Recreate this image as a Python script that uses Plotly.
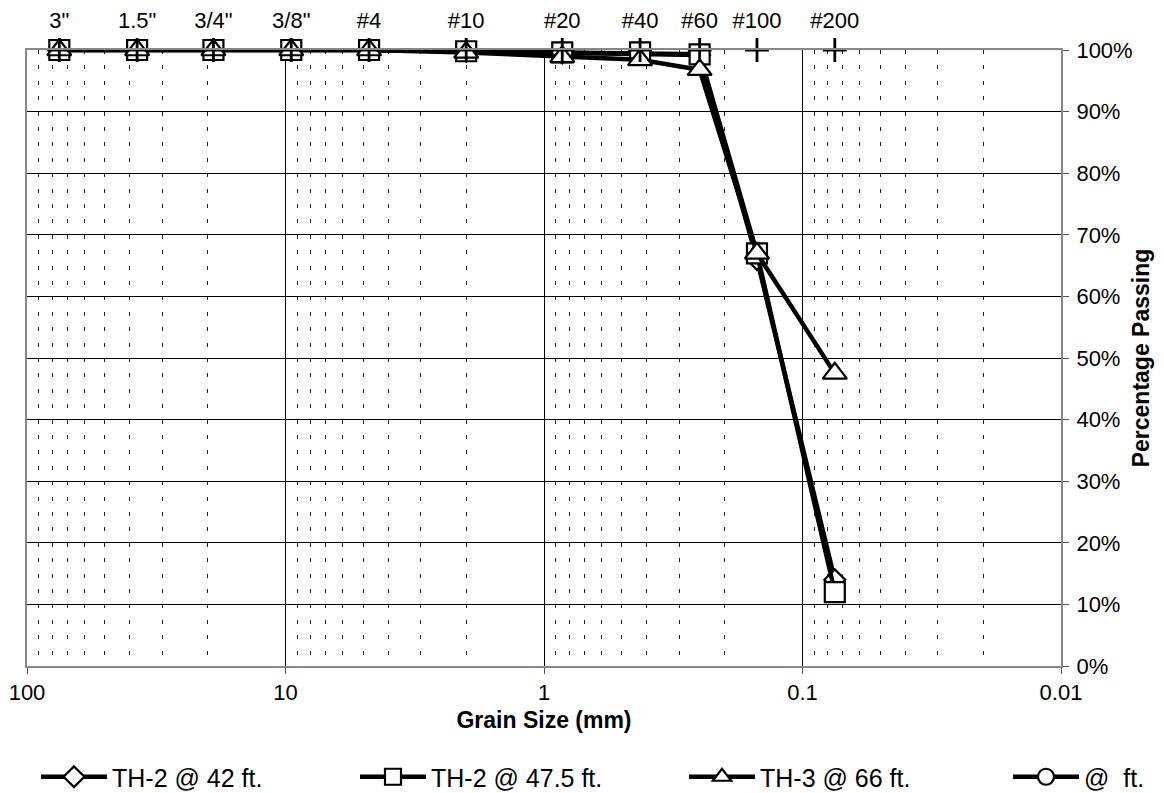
import plotly.graph_objects as go

# Sieve data
sieve_names = ['3"', '1.5"', '3/4"', '3/8"', '#4', '#10', '#20', '#40', '#60', '#100', '#200']
sieve_mm = [75, 37.5, 19, 9.5, 4.75, 2.0, 0.85, 0.425, 0.25, 0.15, 0.075]

th2_42 = [100, 100, 100, 100, 100, 99.8, 99.5, 99.4, 99.2, 66.0, 14.0]
th2_475 = [100, 100, 100, 100, 100, 99.8, 99.6, 99.6, 99.3, 67.0, 12.0]
th3_66 = [100, 100, 100, 100, 100, 99.6, 98.9, 98.4, 96.8, 67.0, 47.5]
sieve_top = [100] * len(sieve_mm)

x_ticks = [100, 10, 1, 0.1, 0.01]
x_ticktext = ["100", "10", "1", "0.1", "0.01"]
minor_vals = [m * 10 ** k for k in range(-2, 2) for m in range(2, 10)]

FONT = "Liberation Sans, Arial, Helvetica, sans-serif"
# page body has an 8px margin, so the figure is sized/positioned in page px - 8
OFF = 8
W, H = 1164 - OFF, 793 - OFF
ML, MT = 27 - OFF, 50 - OFF
PR, PB = 1061 - OFF, 666 - OFF
MR, MB = W - PR, H - PB
PW = W - ML - MR
PH = H - MT - MB

def px_to_xpaper(px):
    return (px - OFF - ML) / PW

def px_to_ypaper(py):
    return (PB - (py - OFF)) / PH

fig = go.Figure()

def series(name, y, symbol, size, legend):
    return go.Scatter(
        x=sieve_mm, y=y, name=name, mode="lines+markers", legend=legend,
        cliponaxis=False,
        line=dict(color="black", width=4.5),
        marker=dict(symbol=symbol, size=size, color="white",
                    line=dict(color="black", width=2.2)),
    )

fig.add_trace(series("TH-2 @ 42 ft.", th2_42, "diamond", 16, "legend"))
fig.add_trace(series("TH-2 @ 47.5 ft.", th2_475, "square", 20, "legend2"))
fig.add_trace(series("TH-3 @ 66 ft.", th3_66, "triangle-up", 21, "legend3"))
fig.add_trace(go.Scatter(
    x=[None], y=[None], name="@  ft.", mode="lines+markers", legend="legend4",
    line=dict(color="black", width=4.5),
    marker=dict(symbol="circle", size=16, color="white",
                line=dict(color="black", width=2.2)),
))
fig.add_trace(go.Scatter(
    x=sieve_mm, y=sieve_top, xaxis="x2", mode="markers", showlegend=False,
    cliponaxis=False,
    marker=dict(symbol="cross-thin", size=17, line=dict(color="black", width=2.8)),
    hoverinfo="skip",
))

legend_y = px_to_ypaper(777)
def leg(px):
    return dict(
        x=px_to_xpaper(px), xanchor="left", y=legend_y, yanchor="middle",
        orientation="h", itemwidth=66, font=dict(size=25),
        bgcolor="rgba(0,0,0,0)", borderwidth=0,
    )

fig.update_layout(
    width=W, height=H,
    margin=dict(l=ML, r=MR, t=MT, b=MB, autoexpand=False),
    paper_bgcolor="white", plot_bgcolor="white",
    font=dict(family=FONT, size=22, color="black"),
    xaxis=dict(
        type="log", range=[2, -2], automargin=False,
        tickvals=x_ticks, ticktext=x_ticktext,
        ticks="outside", ticklen=6, tickcolor="#555",
        ticklabelstandoff=0,
        showgrid=True, gridcolor="black", gridwidth=1,
        showline=True, linecolor="#888", linewidth=2, mirror=True,
        zeroline=False,
        minor=dict(tickvals=minor_vals, showgrid=True, gridcolor="#222",
                   gridwidth=1, griddash="4px,11.4px", ticks=""),
        title=dict(text="<b>Grain Size (mm)</b>", font=dict(size=23), standoff=7),
    ),
    xaxis2=dict(
        type="log", range=[2, -2], overlaying="x", side="top", automargin=False,
        tickvals=sieve_mm, ticktext=sieve_names,
        ticks="", showgrid=False, showline=False, zeroline=False,
        ticklabelstandoff=17,
    ),
    yaxis=dict(
        range=[0, 100], dtick=10, ticksuffix="%", side="right", automargin=False,
        ticks="outside", ticklen=6, tickcolor="#555",
        ticklabelstandoff=3,
        showgrid=True, gridcolor="black", gridwidth=1,
        showline=True, linecolor="#888", linewidth=2, mirror=True,
        zeroline=False,
        title=dict(text="<b>Percentage Passing</b>", font=dict(size=23), standoff=1),
    ),
    legend=leg(36),
    legend2=leg(355),
    legend3=leg(684),
    legend4=leg(1008),
    showlegend=True,
)

fig.write_html("out.html")
